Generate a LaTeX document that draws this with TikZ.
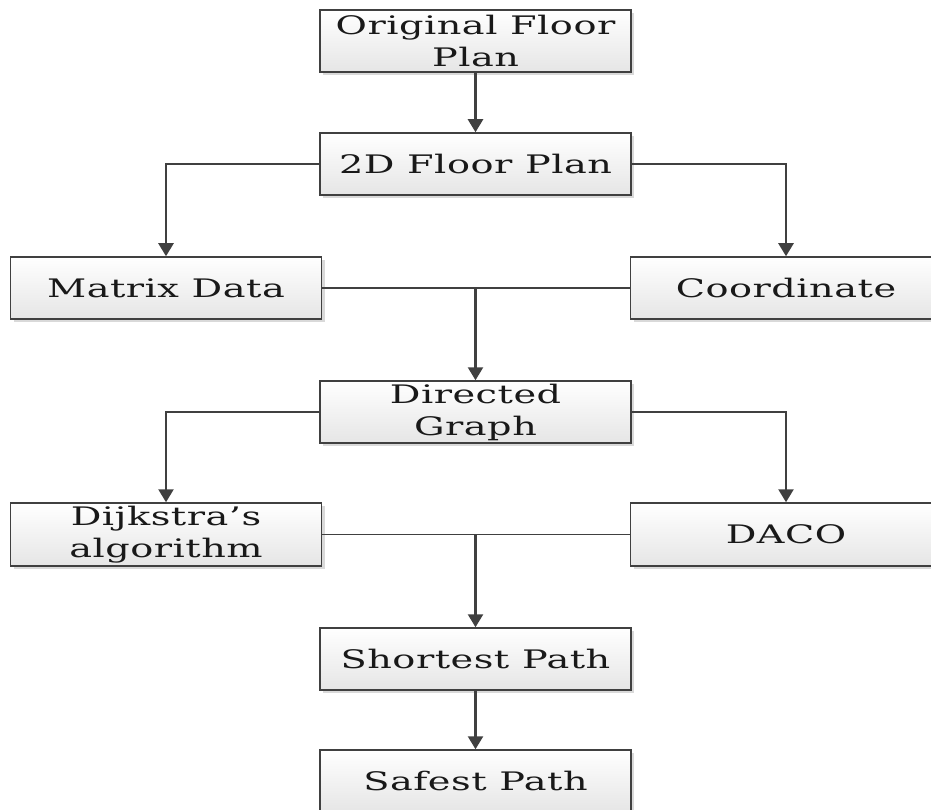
\documentclass[tikz,border=0pt]{standalone}
\usepackage{fontspec}
\setmainfont[FakeStretch=1.5, LetterSpace=2]{DejaVu Serif}
\usetikzlibrary{arrows.meta,shadows,calc}
\begin{document}
\begin{tikzpicture}[x=1pt,y=-1pt,
  box/.style={draw=black!75, line width=1.5pt, top color=white, bottom color=black!10,
    minimum width=311pt, minimum height=62pt, inner sep=0pt, align=center,
    font=\fontsize{25.5}{32}\selectfont, text=black!90,
    drop shadow={shadow xshift=3pt, shadow yshift=-3pt, opacity=0.15, fill=black}},
  arr/.style={draw=black!75, line width=2.5pt, -{Triangle[width=15pt,length=13pt]}},
  con/.style={draw=black!75, line width=1.3pt}]
\useasboundingbox (0,0) rectangle (931,810);
\node[box] (orig) at (475.5,41) {Original Floor\\Plan};
\node[box] (fp) at (475.5,164) {2D Floor Plan};
\node[box] (matrix) at (166,288) {Matrix Data};
\node[box] (coord) at (786,288) {Coordinate};
\node[box] (dg) at (475.5,412) {Directed\\Graph};
\node[box, minimum height=63pt] (dij) at (166,534.5) {Dijkstra’s\\algorithm};
\node[box, minimum height=63pt] (daco) at (786,534.5) {DACO};
\node[box] (sp) at (475.5,659) {Shortest Path};
\node[box] (safe) at (475.5,781) {Safest Path};
\draw[arr] (orig) -- (fp);
\draw[arr] (fp.west) -| (matrix.north);
\draw[arr] (fp.east) -| (coord.north);
\draw[con] (matrix.east) -- (coord.west);
\coordinate (j1) at (dg.north |- matrix.east);
\draw[arr] (j1) -- (dg.north);
\draw[arr] (dg.west) -| (dij.north);
\draw[arr] (dg.east) -| (daco.north);
\draw[con] (dij.east) -- (daco.west);
\coordinate (j2) at (sp.north |- dij.east);
\draw[arr] (j2) -- (sp.north);
\draw[arr] (sp) -- (safe);
\end{tikzpicture}
\end{document}
